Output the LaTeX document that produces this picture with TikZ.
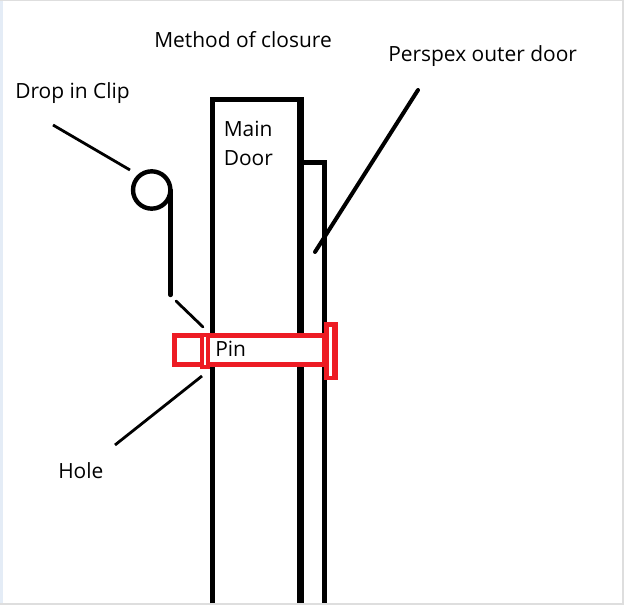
\documentclass[tikz,border=0pt]{standalone}
\usepackage{fontspec}
\setmainfont{Open Sans}
\definecolor{pinred}{RGB}{237,28,36}
\definecolor{edgegrey}{RGB}{222,222,222}
\definecolor{edgeblue}{RGB}{228,236,246}
\tikzset{
  x=0.75pt,y=-0.75pt,
  lbl/.style={font=\fontsize{15.7pt}{18pt}\selectfont,inner sep=0pt,text=black,anchor=base west},
  wall/.style={draw=black,line width=3.75pt,line cap=butt,line join=miter},
  leader/.style={draw=black,line width=2.1pt,line cap=round},
}
\begin{document}
\begin{tikzpicture}
\useasboundingbox (0,0) rectangle (624,605);
\fill[white] (0,0) rectangle (624,605);
\fill[edgeblue] (0,0) rectangle (3,605);
\fill[edgegrey] (0,0) rectangle (624,1.5);
\fill[edgegrey] (0,603) rectangle (624,605);
\fill[edgegrey] (622,0) rectangle (624,605);
% door geometry
\coordinate (mdBL) at (212.5,603);
\coordinate (mdTL) at (212.5,100);
\coordinate (mdTR) at (300.5,100);
\coordinate (mdBR) at (300.5,603);
\coordinate (odT) at (300,162.5);
\coordinate (odTR) at (324.5,162.5);
\coordinate (odBR) at (324.5,603);
\draw[wall] (mdBL) -- (mdTL) -- (mdTR);
\draw[wall,line width=5pt] (300.5,97.5) -- (mdBR);
\draw[wall] (odT) -- (odTR) -- (odBR);
% clip
\node[draw=black,line width=3.3pt,circle,minimum size=28pt,inner sep=0pt] (clip) at (151.7,190) {};
\coordinate (clipTop) at (170.5,190);
\coordinate (clipEnd) at (170.5,295);
\draw[wall,line width=3.3pt,line cap=round] (clipTop) -- (clipEnd);
\coordinate (clipB) at (176,301);
\coordinate (clipC) at (203,327);
\draw[leader] (clipB) -- (clipC);
% pin
\node[draw=pinred,fill=white,line width=3.6pt,minimum width=112.5pt,minimum height=22pt,inner sep=0pt,anchor=north west] (pin) at (172,333) {};
\node[draw=pinred,fill=white,line width=2.7pt,minimum width=4.8pt,minimum height=24pt,inner sep=0pt] (hole) at (205,351) {};
\node[fill=pinred,minimum width=10pt,minimum height=43.5pt,inner sep=0pt,anchor=north west] (head) at (324,322) {};
\node[fill=white,minimum width=2.5pt,minimum height=36.8pt,inner sep=0pt] (slot) at (330.7,351.5) {};
% labels
\node[lbl] (title) at (154,48) {Method of closure};
\node[lbl] (perspex) at (388,62) {Perspex outer door};
\node[lbl] (drop) at (15,99) {Drop in Clip};
\node[lbl] (main) at (223.5,137) {Main};
\node[lbl] (door) at (223.5,166) {Door};
\node[lbl] (pintext) at (215,357) {Pin};
\node[lbl] (holetext) at (58,478) {Hole};
% leaders
\coordinate (a1) at (53,125);
\coordinate (a2) at (130,170);
\draw[leader,line cap=butt] (a1) -- (a2);
\coordinate (b1) at (418,90);
\coordinate (b2) at (315,252);
\draw[leader,line width=3pt] (b1) -- (b2);
\coordinate (c1) at (202,376);
\coordinate (c2) at (115,445);
\draw[leader,line cap=butt] (c1) -- (c2);
\end{tikzpicture}
\end{document}
